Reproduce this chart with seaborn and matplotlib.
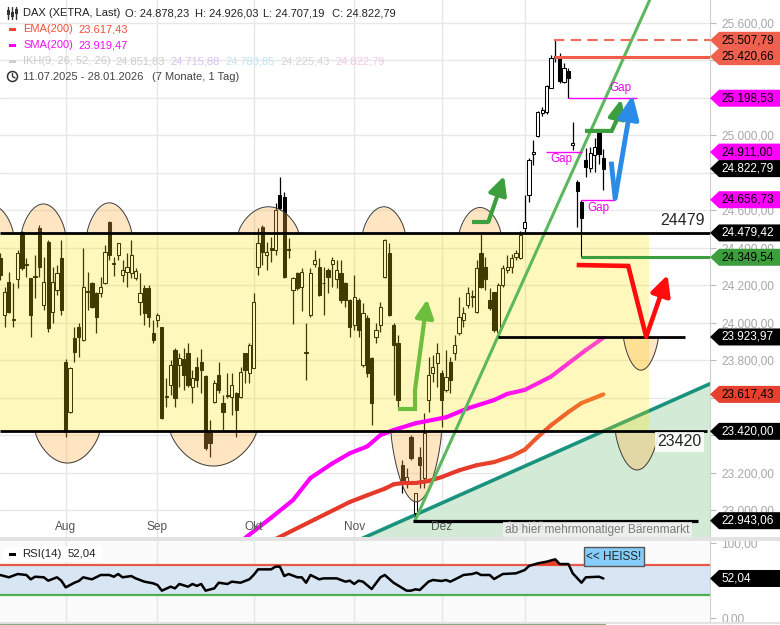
import numpy as np
import pandas as pd
import matplotlib
matplotlib.use("Agg")
import matplotlib.pyplot as plt
import seaborn as sns
from matplotlib.patches import Polygon, Rectangle, Circle
from matplotlib.lines import Line2D
from matplotlib.collections import LineCollection
from matplotlib.colors import to_rgb
from matplotlib.ticker import FuncFormatter
from matplotlib.transforms import IdentityTransform, blended_transform_factory

# ---------------- data ----------------
holidays = ["2025-12-24", "2025-12-25", "2025-12-26", "2025-12-31", "2026-01-01"]
days = pd.bdate_range("2025-07-11", "2026-01-28")
days = days[~days.isin(pd.to_datetime(holidays))]
month_names = ["Aug", "Sep", "Okt", "Nov", "Dez", "Jan '26"]

opens = [24344, 24041, 24219, 24015, 24232, 24486, 24312, 24237, 24246, 24504,
         24095, 24433, 24059, 24175, 24344, 23792, 23525, 23917, 23979, 23908,
         24166, 24210, 24157, 24157, 24210, 24540, 24315, 24362, 24255, 24273,
         24264, 24237, 24113, 24184, 24184, 23947, 24015, 23975, 23605, 23668,
         23854, 23774, 23805, 23837, 23659, 23765, 23792, 23716, 23418, 23579,
         23721, 23570, 23611, 23605, 23623, 23605, 23837, 23730, 23757, 24299,
         24513, 24362, 24401, 24388, 24682, 24670, 24388, 24175, 24264, 24193,
         23837, 24041, 24314, 24299, 24210, 24282, 24314, 24232, 24264, 24214,
         24121, 23988, 24121, 23774, 24024, 23810, 23926, 23988, 24246, 24371,
         23988, 23890, 23240, 23151, 23392, 22982, 23285, 23169, 23587, 23730,
         23783, 23730, 23641, 23792, 23837, 23943, 24015, 24095, 24139, 24059,
         24371, 24299, 24121, 24166, 23952, 24202, 24282, 24299, 24353, 24344,
         24504, 24681, 24900, 24998, 25120, 25123, 25254, 25411, 25415, 25286,
         25343, 24948, 24752, 24646, 24870, 24824, 24896, 25015, 24878.23]
highs = [24371, 24193, 24273, 24210, 24388, 24490, 24344, 24240, 24362, 24522,
         24353, 24442, 24299, 24308, 24442, 23805, 23765, 23979, 23997, 24397,
         24269, 24219, 24166, 24246, 24415, 24545, 24353, 24428, 24335, 24371,
         24442, 24290, 24264, 24202, 24202, 24015, 24050, 23979, 23703, 23801,
         23863, 23837, 23863, 23890, 23748, 23819, 23858, 23721, 23481, 23694,
         23792, 23614, 23730, 23730, 23632, 23765, 23840, 23894, 24161, 24504,
         24522, 24433, 24460, 24638, 24780, 24696, 24451, 24246, 24273, 24290,
         23997, 24290, 24388, 24344, 24299, 24290, 24349, 24335, 24335, 24219,
         24125, 24255, 24130, 24104, 24041, 23819, 23997, 24113, 24445, 24424,
         23997, 23935, 23267, 23222, 23401, 23093, 23338, 23516, 23819, 23828,
         23890, 23748, 23854, 23819, 23934, 24139, 24086, 24193, 24175, 24335,
         24479, 24353, 24184, 24166, 24210, 24308, 24362, 24367, 24388, 24492,
         24682, 24877, 24975, 25130, 25150, 25269, 25429, 25507.79, 25438, 25384,
         25358, 25073, 24761, 24656.73, 24931, 24940, 24985, 25030, 24926.03]
lows = [24228, 23979, 24050, 23979, 24184, 24282, 24246, 23926, 24130, 24246,
        24068, 23952, 23997, 24148, 24041, 23392, 23516, 23792, 23819, 23905,
        24068, 24077, 23943, 24139, 24208, 24335, 24250, 24335, 24219, 24193,
        24237, 24228, 24041, 23988, 23979, 23890, 23979, 23485, 23552, 23614,
        23552, 23659, 23641, 23659, 23570, 23659, 23623, 23320, 23285, 23570,
        23623, 23427, 23600, 23507, 23392, 23596, 23676, 23676, 23757, 24255,
        24308, 24282, 24326, 24362, 24602, 24240, 24344, 23992, 24175, 24063,
        23694, 24032, 24299, 24143, 24041, 24157, 24193, 24184, 24104, 24086,
        23926, 23961, 23926, 23765, 23712, 23454, 23890, 23952, 24237, 24038,
        23614, 23543, 23089, 23116, 23267, 22943.06, 23116, 23116, 23525, 23685,
        23659, 23445, 23632, 23623, 23801, 23934, 23979, 24077, 24086, 24050,
        24184, 24175, 24068, 23952, 23923.97, 24193, 24264, 24264, 24335, 24339,
        24486, 24646, 24841, 24993, 25105, 25117, 25251, 25393, 25278, 25278,
        25198.53, 24922, 24512, 24479.42, 24780, 24807, 24807, 24850, 24707.19]
closes = [24255, 24166, 24059, 24020, 24374, 24290, 24308, 24041, 24252, 24299,
          24219, 23970, 24219, 24264, 24068, 23418, 23757, 23846, 23926, 24193,
          24172, 24086, 24029, 24193, 24379, 24362, 24319, 24424, 24282, 24299,
          24362, 24276, 24157, 24050, 24032, 23908, 24041, 23490, 23609, 23774,
          23596, 23810, 23721, 23668, 23703, 23694, 23748, 23329, 23356, 23676,
          23641, 23525, 23614, 23668, 23534, 23739, 23748, 23881, 24113, 24424,
          24379, 24379, 24388, 24602, 24611, 24242, 24392, 24237, 24184, 24273,
          23842, 24264, 24335, 24148, 24214, 24246, 24335, 24282, 24121, 24121,
          23979, 24139, 23961, 24050, 23730, 23570, 23961, 24086, 24442, 24041,
          23881, 23587, 23160, 23178, 23276, 23089, 23240, 23409, 23721, 23765,
          23837, 23587, 23712, 23694, 23881, 24032, 24050, 24161, 24143, 24290,
          24193, 24232, 24077, 23961, 24202, 24290, 24296, 24344, 24371, 24468,
          24540, 24868, 24910, 25126, 25135, 25265, 25411, 25425, 25290, 25358,
          25304, 24962, 24703, 24560, 24830, 24904, 24940, 24900, 24822.79]

ema_day = [63, 72, 80, 84, 88, 90, 92, 95, 98, 101, 105, 109, 113, 117, 120, 123, 126, 130, 133, 138]
ema_val = [22845, 22950, 23043, 23079, 23114, 23137, 23144, 23144, 23155, 23176, 23212,
           23239, 23256, 23287, 23322, 23390, 23452, 23523, 23571, 23617.43]
sma_day = [56, 62, 67, 71, 76, 80, 84, 87, 90, 95, 102, 107, 113, 116, 120, 126, 130, 134, 138]
sma_val = [22850, 22959, 23053, 23171, 23249, 23303, 23340, 23400, 23427, 23463, 23495,
           23543, 23587, 23620, 23641, 23712, 23783, 23854, 23919.47]

rsi_day = [0, 2, 4, 6, 7, 8, 10, 11, 13, 14, 15, 17, 18, 19, 21, 23, 25, 26, 27, 28,
           30, 31, 33, 35, 36, 37, 39, 40, 41, 43, 44, 45, 46, 47, 49, 50, 52, 53, 55, 57,
           58, 59, 60, 62, 63, 64, 65, 66, 68, 69, 70, 71, 73, 74, 75, 77, 79, 80, 81, 82,
           83, 85, 87, 88, 90, 93, 94, 95, 96, 98, 99, 101, 102, 103, 105, 106, 108, 109, 110, 112,
           113, 115, 118, 120, 121, 123, 125, 127, 128, 130, 131, 133, 134, 137, 138]
rsi_val = [56.7, 53.6, 58.0, 56.7, 50.9, 54.4, 53.6, 49.1, 53.6, 49.1, 40.2, 46.4, 48.7, 53.6, 50.9,
           56.7, 56.7, 54.4, 58.0, 53.6, 55.3, 52.2, 47.8, 45.6, 43.3, 35.8, 41.1, 38.9, 44.7, 41.1,
           44.7, 42.2, 44.7, 35.8, 38.9, 46.4, 44.7, 47.8, 46.4, 50.9, 56.7, 64.2, 64.2, 64.2, 67.8,
           67.8, 55.3, 58.0, 53.6, 53.6, 46.4, 56.7, 50.9, 52.2, 52.2, 52.2, 47.8, 49.1, 44.7, 49.1,
           47.8, 38.0, 53.6, 56.7, 46.4, 35.8, 35.8, 37.6, 36.7, 47.8, 50.0, 48.7, 50.0, 47.8, 53.6,
           56.7, 58.0, 59.8, 56.7, 56.7, 51.3, 58.0, 58.9, 63.3, 68.7, 72.2, 74.4, 77.6, 71.3, 71.3,
           58.9, 46.4, 53.6, 54.4, 52.04]

# horizontal price levels
band_top, band_bottom = 24479.42, 23420.00
support_low = 22943.06
retest_level = 23923.97
ath_high, red_level = 25507.79, 25420.66
green_level = 24349.54
gaps = [(25198.53, 129.9, 145.7), (24911.00, 124.9, 133.1), (24656.73, 132.8, 140.7)]

# price tags on the right scale
tag_values = [25507.79, 25420.66, 25198.53, 24911.00, 24822.79, 24656.73,
              24479.42, 24349.54, 23923.97, 23617.43, 23420.00, 22943.06]
tag_bg = ["#f0604e", "#f0604e", "#ff00ff", "#ff00ff", "black", "#ff00ff",
          "black", "#3c9e3c", "black", "#e8402e", "black", "black"]

# ---------------- figure ----------------
sns.set_style("white")
plt.rcParams["font.family"] = ["Liberation Sans", "DejaVu Sans"]

W, H = 780, 625
fig = plt.figure(figsize=(W / 100, H / 100), dpi=100)
ID = IdentityTransform()


def de(v):
    return f"{v:,.2f}".replace(",", "#").replace(".", ",").replace("#", ".")


def ftext(x, y, s, **kw):
    fig.text(x, H - y, s, transform=ID, va="center", ha="left", **kw)


def main_label(v, p):
    # labels fully hidden behind a price tag are left out
    if min(abs(v - t) for t in tag_values) < 30:
        return ""
    return de(v)


ax = fig.add_axes([0, 1 - 537 / H, 710 / W, 537 / H])
rx = fig.add_axes([0, 1 - 621.5 / H, 710 / W, 80.5 / H])
X0, X1 = -0.03, 162.4
YLO, YHI = 22856, 25723

n = len(days)
idx = np.arange(n)
month_pos = [i for i in range(1, n) if days[i].month != days[i - 1].month]

for a in (ax, rx):
    a.set_xlim(X0, X1)
    a.set_xticks(month_pos)
    a.tick_params(axis="x", length=0, labelbottom=False)
    a.grid(axis="x", color="#e6e6e6", lw=1)
    a.set_axisbelow(True)
    for s in ("left", "top", "bottom"):
        a.spines[s].set_visible(False)
    a.spines["right"].set_color("#d0d0d0")
    a.yaxis.tick_right()
    a.tick_params(axis="y", length=4, color="#bbbbbb", labelcolor="#a8a8a8",
                  labelsize=8.6, pad=4)

ax.yaxis.set_major_formatter(FuncFormatter(main_label))
rx.yaxis.set_major_formatter(FuncFormatter(lambda v, p: de(v)))

ax.set_ylim(YLO, YHI)
ax.set_yticks(np.arange(23000, 25601, 200))
ax.grid(axis="y", color="#e8e8e8", lw=1)

# green area below the long-term trend line
teal_x = np.array([83, 162.4])
teal_v = np.array([22850, 23674])
ax.fill_between(teal_x, teal_v, YLO, color="#d3ebd6", lw=0, zorder=1)
ax.plot(teal_x, teal_v, color="#19937f", lw=2.6, zorder=2)

# candles
df = pd.DataFrame({"o": opens, "h": highs, "l": lows, "c": closes}, index=idx)
up = df.c >= df.o
ax.vlines(idx, df.l, df.h, color="black", lw=0.9, zorder=3)
ax.bar(idx, np.maximum((df.c - df.o).abs(), 4), bottom=np.minimum(df.o, df.c),
       width=0.74, color=np.where(up, "white", "black"), edgecolor="black",
       linewidth=0.75, zorder=3.1)

# sideways band
ax.add_patch(Rectangle((X0, band_bottom), 148.5 - X0, band_top - band_bottom,
                       facecolor="#ffe400", alpha=0.26, lw=0, zorder=4))

# half-round "touch" marks (centre day, half width in days, base, peak)
bumps = [(-2.0, 5.0, band_top, 24627), (9.9, 5.0, band_top, 24634), (25.0, 5.1, band_top, 24640),
         (61.4, 6.9, band_top, 24619), (87.8, 4.85, band_top, 24619), (109.8, 4.75, band_top, 24615),
         (15.4, 7.4, band_bottom, 23251), (48.8, 9.9, band_bottom, 23235), (95.2, 5.8, band_bottom, 23044),
         (146.6, 4.0, retest_level, 23747), (145.7, 4.95, band_bottom, 23214)]
for c, hw, base, peak in bumps:
    t = np.linspace(-1, 1, 80)
    xs = c + hw * t
    ys = base + (peak - base) * (1 - t ** 2) ** 0.75
    ax.fill_between(xs, base, ys, color="#ffb347", alpha=0.33, lw=0, zorder=4.2)
    ax.plot(xs, ys, color="#3a3a3a", lw=0.7, zorder=4.3)


# moving averages with colour fade
def fade_line(xs, vs, c1, c2, start):
    xs, vs = np.asarray(xs, float), np.asarray(vs, float)
    segs = np.stack([np.column_stack([xs[:-1], vs[:-1]]), np.column_stack([xs[1:], vs[1:]])], axis=1)
    mid = (xs[:-1] + xs[1:]) / 2
    t = np.clip((mid - start) / (xs[-1] - start), 0, 1)[:, None]
    cols = (1 - t) * np.array(to_rgb(c1)) + t * np.array(to_rgb(c2))
    ax.add_collection(LineCollection(segs, colors=cols, lw=3.0, capstyle="round",
                                     joinstyle="round", zorder=5))


fade_line(ema_day, ema_val, "#e5392b", "#f27a2a", 108)
fade_line(sma_day, sma_val, "#ff00ff", "#ff4fc4", 110)

# steep trend line from the November low
ax.plot([94.9, 148.6], [support_low, YHI], color="#5cb85c", lw=2.2, zorder=5.2)

# horizontal levels
ax.hlines(band_top, X0, X1, color="black", lw=2.0, zorder=6)
ax.hlines(band_bottom, X0, 161.7, color="black", lw=2.0, zorder=6)
ax.hlines(retest_level, 114, 156.7, color="black", lw=2.0, zorder=6)
ax.hlines(support_low, 94.5, 159.6, color="black", lw=2.3, zorder=6)
ax.hlines(ath_high, 126.8, X1, color="#f26b5b", lw=1.5, linestyles=(0, (5, 3)), zorder=6)
ax.hlines(red_level, 126.8, X1, color="#f25a4a", lw=2.2, zorder=6)
ax.vlines(132.8, green_level, band_top, color="black", lw=0.8, zorder=6)
ax.hlines(green_level, 132.8, X1, color="#3c9e3c", lw=2.2, zorder=6)
for v, a0, a1 in gaps:
    ax.hlines(v, a0, a1, color="#ff00ff", lw=1.0, zorder=6)

ax.text(128.3, 24874, "Gap", color="#ee00ee", fontsize=8.4, ha="center", va="center", zorder=9)
ax.text(141.8, 25253, "Gap", color="#ee00ee", fontsize=8.4, ha="center", va="center", zorder=9)
ax.text(136.8, 24612, "Gap", color="#ee00ee", fontsize=8.4, ha="center", va="center", zorder=9)
ax.text(151.0, 24545, "24479", fontsize=11.5, ha="left", va="center", zorder=9)
ax.text(150.3, 23365, "23420", fontsize=11.5, ha="left", va="center", zorder=9,
        bbox=dict(boxstyle="square,pad=0.15", fc="white", ec="none", alpha=0.85))


# drawn arrows
def arrow(xs, vs, color, lw, hl, hw):
    ax.plot(xs[:-1], vs[:-1], color=color, lw=lw, solid_joinstyle="miter",
            solid_capstyle="butt", zorder=7)
    ax.annotate("", xy=(xs[-1], vs[-1]), xytext=(xs[-2], vs[-2]), zorder=7,
                arrowprops=dict(arrowstyle=f"-|>,head_length={hl},head_width={hw}",
                                color=color, lw=lw, shrinkA=0, shrinkB=0, mutation_scale=10))


arrow([91.1, 94.9, 94.9, 97.7], [23538, 23538, 23640, 24125], "#6cbf3c", 3.0, 1.1, 0.55)
arrow([107.9, 111.7, 115.3], [24539, 24539, 24783], "#3c9e3c", 3.0, 1.1, 0.55)
arrow([133.8, 139.9, 140.9, 142.1], [25024, 25024, 25074, 25194], "#3c9e3c", 3.0, 1.1, 0.5)
arrow([139.8, 140.7, 144.7], [24860, 24664, 25216], "#2b8be8", 3.5, 1.4, 0.62)
arrow([131.9, 143.7, 147.8, 152.7], [24308, 24303, 23925, 24255], "#ff0d0d", 3.3, 1.2, 0.6)

# month labels inside the chart
bt = blended_transform_factory(ax.transData, ax.transAxes)
for p, name in zip(month_pos, month_names):
    ax.text(p, 0.0177, name, transform=bt, ha="center", va="center", fontsize=8.6,
            color="#555555", zorder=9)
ax.text(115.5, 22893, "ab hier mehrmonatiger Bärenmarkt", fontsize=8.6, color="#7a7a7a",
        ha="left", va="center", zorder=9.5,
        bbox=dict(boxstyle="square,pad=0.2", fc="#f1f1f1", ec="none", alpha=0.85))

# ---------------- RSI panel ----------------
rx.set_facecolor("#fbfbfb")
rx.set_ylim(-5.3, 102)
rx.set_yticks([0, 100])
rx.axhspan(30, 70, color="#d8e5f2", lw=0, zorder=1)
rx.axhline(70, color="#e8584a", lw=1.6, zorder=2)
rx.axhline(30, color="#4caf50", lw=1.6, zorder=2)
rv = np.array(rsi_val)
rx.fill_between(rsi_day, rv, 70, where=rv > 70, interpolate=True, color="#e8402a", lw=0, zorder=3)
sns.lineplot(x=rsi_day, y=rsi_val, ax=rx, color="black", lw=1.8, zorder=4)
rx.set_xlabel("")
rx.set_ylabel("")

# ---------------- figure-level decorations ----------------
fig.add_artist(Rectangle((0, H - 541), W, 4, transform=ID, fc="#e3e3e3", ec="none"))
fig.add_artist(Rectangle((0, H - 623.5), W, 2, transform=ID, fc="#e3e3e3", ec="none"))
fig.add_artist(Rectangle((0, 0), 605, 1.5, transform=ID, fc="#dce9d6", ec="#8aa880", lw=0.8))


def tag(axis, v, text, bg, fg):
    Y = axis.transData.transform((0, v))[1]
    pts = [(710, Y), (719, Y + 8.5), (780, Y + 8.5), (780, Y - 8.5), (719, Y - 8.5)]
    fig.add_artist(Polygon(pts, closed=True, transform=ID, fc=bg, ec="none", zorder=10))
    fig.text(721, Y, text, transform=ID, ha="left", va="center", fontsize=8.5, color=fg, zorder=11)


for v, bg in zip(tag_values, tag_bg):
    tag(ax, v, de(v), bg, "white" if bg == "black" else "black")
tag(rx, rsi_val[-1], de(rsi_val[-1]), "black", "white")

# HEISS label
fig.add_artist(Rectangle((584, H - 566), 60, 19, transform=ID, fc="#86cdf9", ec="#555555", lw=1, zorder=10))
fig.text(614, H - 556.5, "<< HEISS!", transform=ID, ha="center", va="center", fontsize=8.4, zorder=11)

# RSI legend
fig.add_artist(Rectangle((3, H - 562), 99, 15, transform=ID, fc="white", ec="none", zorder=10))
fig.add_artist(Rectangle((9, H - 555.5), 7, 3, transform=ID, fc="black", ec="none", zorder=11))
ftext(22.5, 554, "RSI(14)", fontsize=8.2, color="#222222", zorder=11)
ftext(67.5, 554, "52,04", fontsize=8.2, color="#222222", zorder=11)

# main legend
for cx, b0, b1 in [(8, 10, 15), (12, 12, 17), (16, 9, 14)]:
    fig.add_artist(Line2D([cx, cx], [H - 7, H - 19], transform=ID, color="#333333", lw=1))
    fig.add_artist(Rectangle((cx - 1.5, H - b1), 3, b1 - b0, transform=ID, fc="#333333", ec="none"))
ftext(23, 13.3, "DAX (XETRA, Last)", fontsize=8, color="#222222")
ftext(125, 13.3, "O: 24.878,23", fontsize=8, color="#222222")
ftext(195, 13.3, "H: 24.926,03", fontsize=8, color="#222222")
ftext(263, 13.3, "L: 24.707,19", fontsize=8, color="#222222")
ftext(332, 13.3, "C: 24.822,79", fontsize=8, color="#222222")

fig.add_artist(Rectangle((9, H - 30.5), 7, 3, transform=ID, fc="#ee4433", ec="none"))
ftext(23, 29.3, "EMA(200)", fontsize=8, color="#f0503c")
ftext(78, 29.3, "23.617,43", fontsize=8, color="#f0503c")
fig.add_artist(Rectangle((9, H - 46.5), 7, 3, transform=ID, fc="#ff00ff", ec="none"))
ftext(23, 45.3, "SMA(200)", fontsize=8, color="#f010f0")
ftext(78, 45.3, "23.919,47", fontsize=8, color="#f010f0")
fig.add_artist(Rectangle((9, H - 62.5), 7, 3, transform=ID, fc="#d0d0d0", ec="none"))
ftext(23, 61.3, "IKH(9, 26, 52, 26)", fontsize=8, color="#cccccc")
ftext(115, 61.3, "24.851,83", fontsize=8, color="#cccccc")
ftext(170, 61.3, "24.715,88", fontsize=8, color="#d2c4ee")
ftext(225, 61.3, "24.783,85", fontsize=8, color="#c4e2f2")
ftext(280, 61.3, "24.225,43", fontsize=8, color="#d4d4d4")
ftext(335, 61.3, "24.822,79", fontsize=8, color="#eecbdf")

fig.add_artist(Circle((12.5, H - 76.5), 5, transform=ID, fill=False, ec="#333333", lw=1.1))
fig.add_artist(Line2D([12.5, 12.5, 15], [H - 73.5, H - 76.5, H - 78], transform=ID, color="#333333", lw=1))
ftext(23, 77, "11.07.2025 - 28.01.2026", fontsize=8, color="#444444")
ftext(152, 77, "(7 Monate, 1 Tag)", fontsize=8, color="#444444")

fig.savefig("out.png", dpi=100)
